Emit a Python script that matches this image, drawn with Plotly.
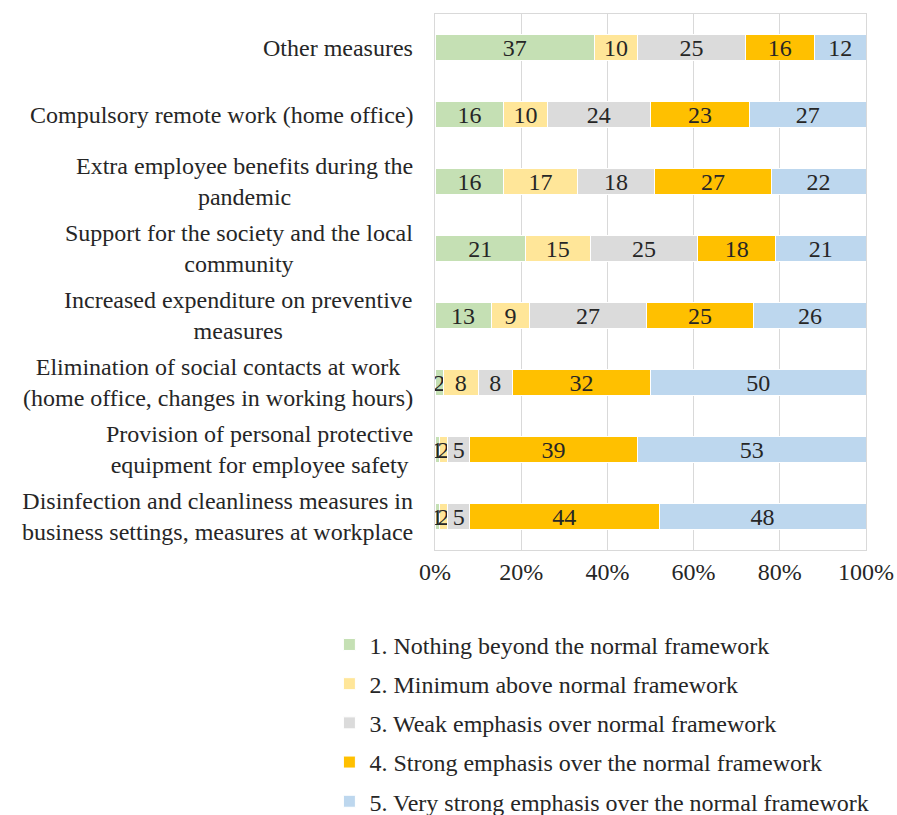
import plotly.graph_objects as go

categories = [
    "Other measures",
    "Compulsory remote work (home office)",
    "Extra employee benefits during the<br>pandemic",
    "Support for the society and the local<br>community",
    "Increased expenditure on preventive<br>measures",
    "Elimination of social contacts at work<br>(home office, changes in working hours)",
    "Provision of personal protective<br>equipment for employee safety",
    "Disinfection and cleanliness measures in<br>business settings, measures at workplace",
]
series_names = [
    "1. Nothing beyond the normal framework",
    "2. Minimum above normal framework",
    "3. Weak emphasis over normal framework",
    "4. Strong emphasis over the normal framework",
    "5. Very strong emphasis over the normal framework",
]
s1 = [37, 16, 16, 21, 13, 2, 1, 1]
s2 = [10, 10, 17, 15, 9, 8, 2, 2]
s3 = [25, 24, 18, 25, 27, 8, 5, 5]
s4 = [16, 23, 27, 18, 25, 32, 39, 44]
s5 = [12, 27, 22, 21, 26, 50, 53, 48]
series = [s1, s2, s3, s4, s5]
colors = ["#C5E0B4", "#FFE699", "#DBDBDB", "#FFC000", "#BDD7EE"]
tick_vals = [0, 20, 40, 60, 80, 100]
tick_text = ["0%", "20%", "40%", "60%", "80%", "100%"]

FONT = "Liberation Serif"
FS = 24
TXT = "#262626"
fig = go.Figure()
for name, vals, col in zip(series_names, series, colors):
    fig.add_trace(go.Bar(
        y=categories, x=vals, name=name, orientation="h",
        marker=dict(color=col, line=dict(color="white", width=1)),
        text=[str(v) for v in vals], textposition="inside", textangle=0,
        insidetextanchor="middle", constraintext="none",
        textfont=dict(family=FONT, size=FS, color=TXT),
        legendgroup=name,
    ))

for c in categories:
    fig.add_annotation(
        x=0, y=c, xref="paper", yref="y", xanchor="right", yanchor="middle",
        xshift=-20, text=c, showarrow=False, align="center",
        font=dict(family=FONT, size=FS, color=TXT),
    )

fig.update_layout(
    barmode="stack", bargap=0.6,
    width=897, height=815,
    margin=dict(l=435, r=31, t=14, b=265, autoexpand=False),
    plot_bgcolor="white", paper_bgcolor="white",
    font=dict(family=FONT, size=FS, color=TXT),
    uniformtext=dict(minsize=FS, mode="show"),
    showlegend=True,
    legend=dict(
        x=-0.245, y=-0.135, xanchor="left", yanchor="top",
        font=dict(family=FONT, size=FS, color=TXT),
        tracegroupgap=5, traceorder="grouped",
    ),
    xaxis=dict(
        range=[0, 100], tickvals=tick_vals, ticktext=tick_text,
        showgrid=True, gridcolor="#D9D9D9", gridwidth=1,
        zeroline=False, showline=True, linecolor="#D9D9D9", mirror=True,
        ticks="", automargin=False,
        tickfont=dict(family=FONT, size=FS, color=TXT),
    ),
    yaxis=dict(
        categoryorder="array", categoryarray=categories[::-1],
        showticklabels=False, showgrid=False, zeroline=False, automargin=False,
        showline=True, linecolor="#D9D9D9", mirror=True, ticks="",
    ),
)
fig.write_html("out.html")
